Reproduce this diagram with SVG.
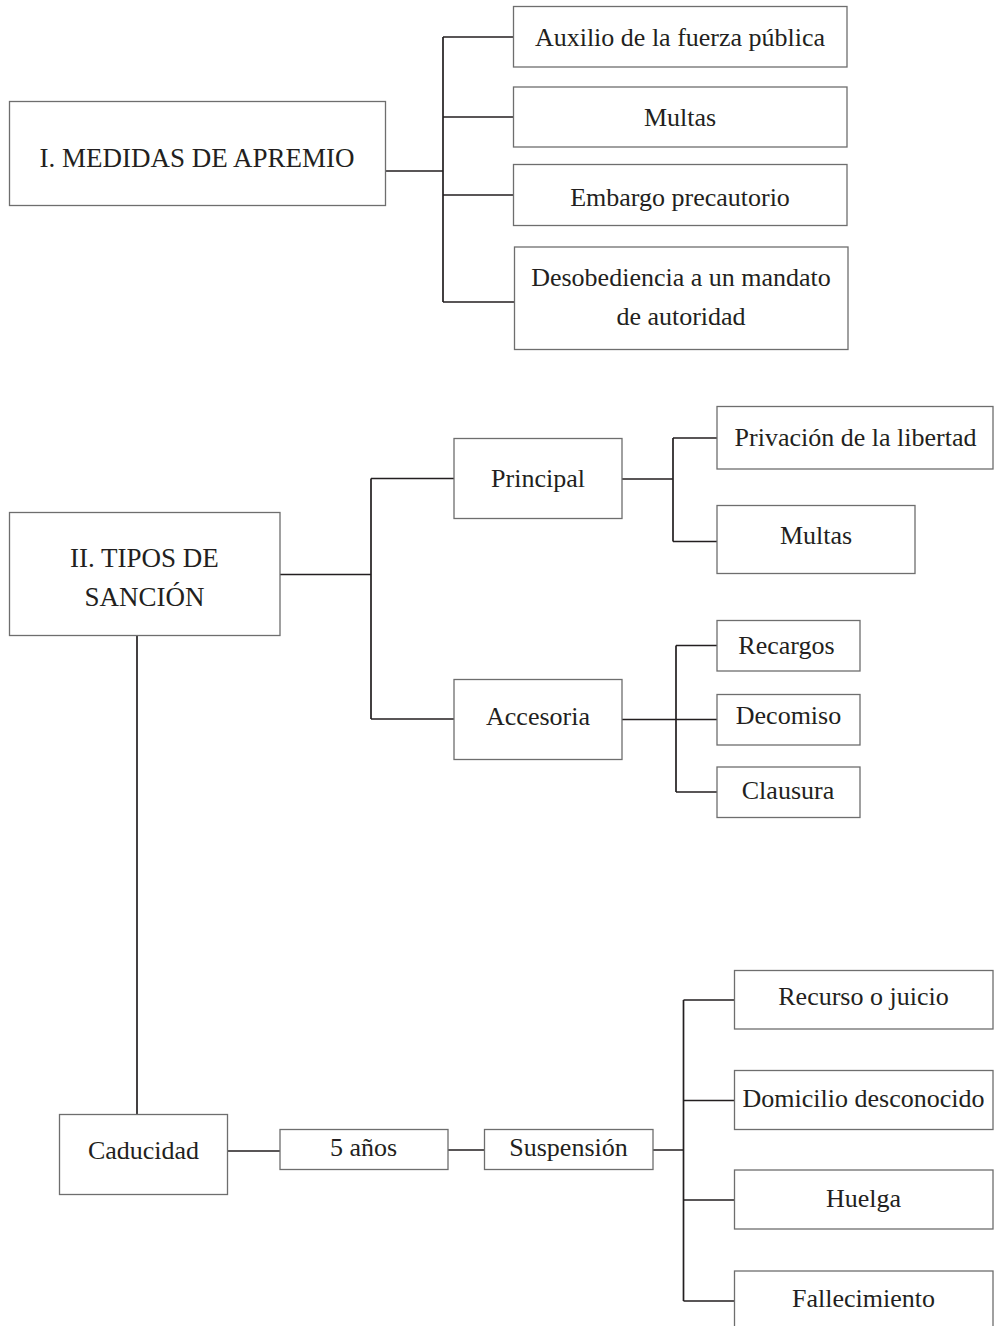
<svg xmlns="http://www.w3.org/2000/svg" width="994" height="1326" viewBox="0 0 994 1326">
<style>
.box{fill:#fff;stroke:#6e6e6e;stroke-width:1.3}
.t{font-family:"Liberation Serif","Times New Roman",serif;font-size:26px;fill:#231f20;text-anchor:middle}
.tm{font-size:27px}
.c{fill:none;stroke:#231f20;stroke-width:1.7}
</style>
<rect width="994" height="1326" fill="#fff"/>
<g id="connectors">
<path class="c" d="M385.5 171H443M443 37V302M443 37H513M443 117H513M443 195H513M443 302H514"/>
<path class="c" d="M280 574.5H371M371 478.5V719M371 478.5H454M371 719H454"/>
<path class="c" d="M622 479H673M673 438V541.5M673 438H717M673 541.5H717"/>
<path class="c" d="M622 719.5H717M676 645.5V792M676 645.5H717M676 792H717"/>
<path class="c" d="M137 635.5V1114"/>
<path class="c" d="M227.5 1151H280M448 1150H484.5M653 1150H683.5M683.5 1000V1301M683.5 1000H734.5M683.5 1100.5H734.5M683.5 1200H734.5M683.5 1301H734.5"/>
</g>
<g id="n1"><rect class="box" x="9.5" y="101.5" width="376" height="104"/><text class="t tm" x="197" y="167">I. MEDIDAS DE APREMIO</text></g>
<g id="n1a"><rect class="box" x="513.5" y="6.5" width="333.5" height="60.5"/><text class="t" x="680" y="46">Auxilio de la fuerza pública</text></g>
<g id="n1b"><rect class="box" x="513.5" y="87" width="333.5" height="60"/><text class="t" x="680" y="126">Multas</text></g>
<g id="n1c"><rect class="box" x="513.5" y="164.5" width="333.5" height="61"/><text class="t" x="680" y="206">Embargo precautorio</text></g>
<g id="n1d"><rect class="box" x="514.5" y="247" width="333.5" height="102.5"/><text class="t" x="681" y="286">Desobediencia a un mandato</text><text class="t" x="681" y="325">de autoridad</text></g>
<g id="n2"><rect class="box" x="9.5" y="512.5" width="270.5" height="123"/><text class="t tm" x="144.5" y="566.5">II. TIPOS DE</text><text class="t tm" x="144.5" y="606">SANCIÓN</text></g>
<g id="n2p"><rect class="box" x="454" y="438.5" width="168" height="80"/><text class="t" x="538" y="487">Principal</text></g>
<g id="n2pa"><rect class="box" x="717" y="406.5" width="276" height="62.5"/><text class="t" x="855.5" y="446">Privación de la libertad</text></g>
<g id="n2pb"><rect class="box" x="717" y="505.5" width="198" height="68"/><text class="t" x="816" y="544">Multas</text></g>
<g id="n2a"><rect class="box" x="454" y="679.5" width="168" height="80"/><text class="t" x="538" y="725">Accesoria</text></g>
<g id="n2aa"><rect class="box" x="717" y="620.5" width="143" height="50.5"/><text class="t" x="786.5" y="654">Recargos</text></g>
<g id="n2ab"><rect class="box" x="717" y="694.5" width="143" height="50.5"/><text class="t" x="788.5" y="724">Decomiso</text></g>
<g id="n2ac"><rect class="box" x="717" y="767" width="143" height="50.5"/><text class="t" x="788" y="799">Clausura</text></g>
<g id="n3"><rect class="box" x="59.5" y="1114.5" width="168" height="80"/><text class="t" x="143.5" y="1159">Caducidad</text></g>
<g id="n3a"><rect class="box" x="280" y="1129.5" width="168" height="40"/><text class="t" x="363.5" y="1156">5 años</text></g>
<g id="n3b"><rect class="box" x="484.5" y="1129.5" width="168.5" height="40"/><text class="t" x="568.5" y="1156">Suspensión</text></g>
<g id="n3c"><rect class="box" x="734.5" y="970.5" width="258.5" height="58.5"/><text class="t" x="863.5" y="1005">Recurso o juicio</text></g>
<g id="n3d"><rect class="box" x="734.5" y="1070.5" width="258.5" height="59"/><text class="t" x="863.5" y="1107">Domicilio desconocido</text></g>
<g id="n3e"><rect class="box" x="734.5" y="1170" width="258.5" height="59"/><text class="t" x="863.5" y="1207">Huelga</text></g>
<g id="n3f"><rect class="box" x="734.5" y="1271" width="258.5" height="62"/><text class="t" x="863.5" y="1307">Fallecimiento</text></g>
</svg>
